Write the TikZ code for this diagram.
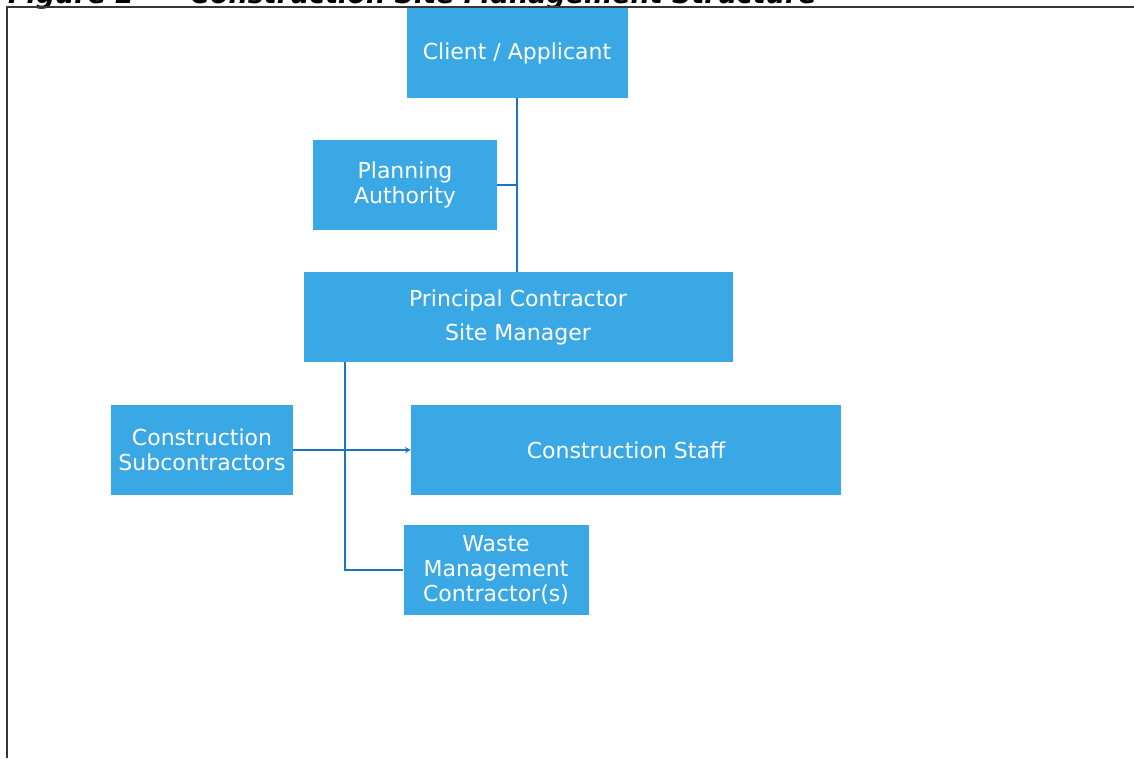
\documentclass[tikz,border=0pt]{standalone}
\usepackage{fontspec}
\setmainfont{DejaVu Sans}
\usetikzlibrary{arrows}
\definecolor{boxblue}{RGB}{58,168,228}
\definecolor{linkblue}{RGB}{28,118,188}
\definecolor{framegray}{RGB}{55,55,55}

\begin{document}
\begin{tikzpicture}[x=1pt,y=-1pt,
	unit/.style={fill=boxblue,text=white,minimum height=90pt,inner sep=0pt,align=center,font=\fontsize{22}{25}\selectfont},
	caption/.style={anchor=base west,inner sep=0pt,font=\fontsize{27}{30}\bfseries\itshape\selectfont},
	link/.style={linkblue,line width=1.6pt},
	>=stealth]
	\useasboundingbox (0,0) rectangle (1134,758);

	% caption, cut at the top of the page
	\node[caption] (figno) at (8,3) {Figure 2};
	\node[caption] (figtitle) at (190,3) {Construction Site Management Structure};
	\draw[framegray,line width=2pt] (7,758) -- (7,7) -- (1134,7);

	% boxes
	\node[unit,minimum width=221pt] (client) at (517,53) {Client / Applicant};
	\node[unit,minimum width=184pt] (planning) at (405,185) {Planning\\Authority};
	\node[unit,minimum width=429pt] (principal) at (518,317) {Principal Contractor\\[9pt]Site Manager};
	\node[unit,minimum width=182pt] (subcon) at (202,450) {Construction\\Subcontractors};
	\node[unit,minimum width=430pt] (staff) at (626,450) {Construction Staff};
	\node[unit,minimum width=185pt] (waste) at (496,570) {Waste\\Management\\Contractor(s)};

	% links
	\draw[link] (client.south) -- (client.south |- principal.north);
	\draw[link] (planning.east) -- (planning.east -| client.south);
	\coordinate (split) at (345,362);
	\draw[link] (split) |- (waste.west);
	\draw[link,->] (subcon.east) -- (staff.west);

	%\draw[step=50,gray,ultra thin] (0,0) grid (1134,758);
\end{tikzpicture}
\end{document}
